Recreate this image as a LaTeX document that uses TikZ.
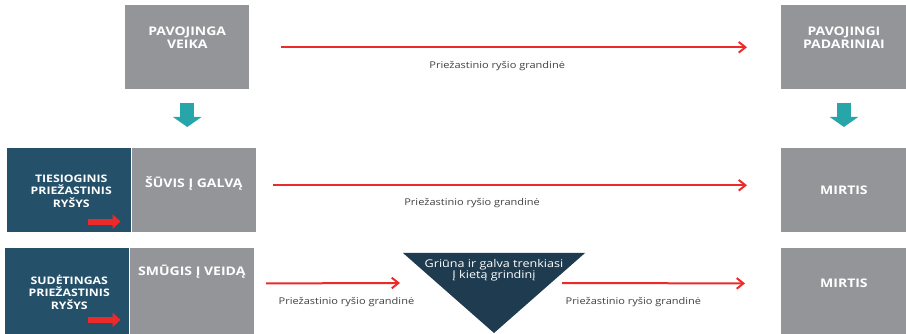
\documentclass[tikz,border=0pt]{standalone}
\usepackage{fontspec}
\setmainfont[FakeStretch=1.18]{Open Sans}
\usepackage{tikz}
\usetikzlibrary{
  arrows.meta,
  positioning,
  calc
}
\definecolor{chGrey}{HTML}{939598}
\definecolor{chDark}{HTML}{24506A}
\definecolor{chTri}{HTML}{1F3B50}
\definecolor{chTeal}{HTML}{27A5A8}
\definecolor{chRed}{HTML}{EC2A2A}
\definecolor{chText}{HTML}{404040}
\tikzset{
  chbox/.style={
    inner sep=0pt, minimum width=93pt, minimum height=63pt, anchor=north west
  },
  greybox/.style={chbox, fill=chGrey},
  darkbox/.style={chbox, fill=chDark},
  headtxt/.style={
    text=white, font=\fontsize{8.9}{10}\selectfont\bfseries, align=center, inner sep=0pt
  },
  darktxt/.style={headtxt, font=\fontsize{7.8}{9.4}\selectfont\bfseries},
  tritxt/.style={text=white, font=\fontsize{8}{8.4}\selectfont, align=center, inner sep=0pt},
  chainlbl/.style={text=chText, font=\fontsize{7}{8}\selectfont, inner sep=0pt},
  causal/.style={-{Straight Barb[length=5pt, width=8pt]}, line width=1.5pt, chRed},
  minired/.style={-{Triangle[length=6pt, width=10.5pt]}, line width=4.5pt, chRed},
  downarrow/.style={-{Triangle[length=7.5pt, width=21pt]}, line width=10.5pt, chTeal}
}

\begin{document}
\begin{tikzpicture}[x=0.75pt, y=-0.75pt]
  \useasboundingbox (0,0) rectangle (906,334);
  % top row
  \node[greybox] (veika) at (125,5) {};
  \node[greybox, minimum width=94pt] (padar) at (781,5) {};
  \node[headtxt] (veikaT) at ($(veika.north)+(0,33)$) {PAVOJINGA\\VEIKA};
  \node[headtxt] (padarT) at ($(padar.north)+(0,33)$) {PAVOJINGI\\PADARINIAI};
  \draw[causal, shorten <=23.25pt, shorten >=25.5pt] (veika) -- (padar)
    node[chainlbl, pos=0.466, below=10pt] (lbl1) {Priežastinio ryšio grandinė};

  % direct link
  \node[darkbox] (tiesiog) at (7,148) {};
  \node[greybox, right=0pt of tiesiog] (suvis) {};
  \node[greybox, minimum width=94pt] (mirtis1) at (781,148) {};
  \node[darktxt] (tiesiogT) at ($(tiesiog.center)+(2,1)$) {TIESIOGINIS\\PRIEŽASTINIS\\RYŠYS};
  \node[headtxt] (suvisT) at ($(suvis.north)+(0,35)$) {ŠŪVIS Į GALVĄ};
  \node[headtxt] (mirtis1T) at (mirtis1.center) {MIRTIS};
  \draw[minired] ([shift={(-44,-11)}]tiesiog.south east) -- ([shift={(-11,-11)}]tiesiog.south east);
  \draw[causal] ([shift={(17,-5)}]suvis.east) -- ([shift={(-34,-5)}]mirtis1.west)
    node[chainlbl, pos=0.42, below=9pt] (lbl2) {Priežastinio ryšio grandinė};

  \draw[downarrow] ([yshift=-9.75pt]veika.south) -- ([yshift=15.75pt]veika.south |- suvis.north);
  \draw[downarrow] ([yshift=-9.75pt]padar.south) -- ([yshift=15.75pt]padar.south |- mirtis1.north);

  % complex link
  \node[darkbox, minimum height=64pt] (sudet) at (5,248) {};
  \node[greybox, minimum height=64pt, right=0pt of sudet] (smugis) {};
  \node[greybox, minimum width=94pt, minimum height=64pt] (mirtis2) at (781,248) {};
  \node[darktxt] (sudetT) at ($(sudet.center)+(2,1)$) {SUDĖTINGAS\\PRIEŽASTINIS\\RYŠYS};
  \node[headtxt] (smugisT) at ($(smugis.north)+(0,24)$) {SMŪGIS Į VEIDĄ};
  \node[headtxt] (mirtis2T) at ($(mirtis2.north)+(0,35)$) {MIRTIS};
  \draw[minired] ([shift={(-42,-14)}]sudet.south east) -- ([shift={(-9,-14)}]sudet.south east);

  \coordinate (triL) at (403,253);
  \coordinate (triR) at (585,253);
  \coordinate (triB) at (494,333);
  \fill[chTri] (triL) -- (triR) -- (triB) -- cycle;
  \node[tritxt] (griuna) at (494,270) {Griūna ir galva trenkiasi\\Į kietą grindinį};
  \coordinate (triIn) at (400,283);
  \coordinate (triOut) at (562,283);
  \draw[causal] ([shift={(12,-7.5)}]smugis.east) -- (triIn)
    node[chainlbl, pos=0.6, below=10pt] (lbl3) {Priežastinio ryšio grandinė};
  \draw[causal] (triOut) -- ([shift={(-36,-7.5)}]mirtis2.west)
    node[chainlbl, pos=0.39, below=10pt] (lbl4) {Priežastinio ryšio grandinė};
\end{tikzpicture}
\end{document}
